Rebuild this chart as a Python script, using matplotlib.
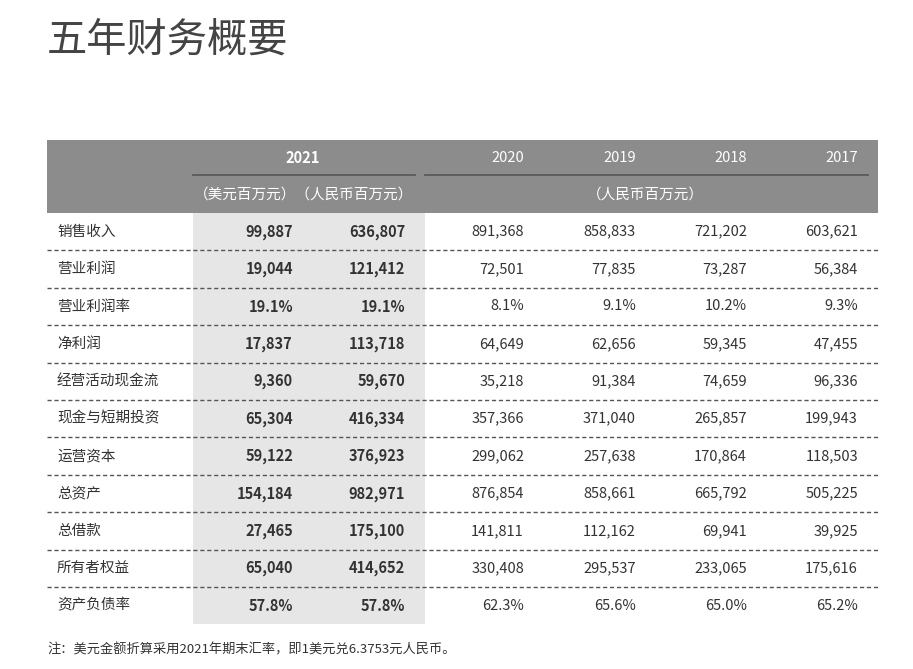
import matplotlib.pyplot as plt
from matplotlib.patches import Rectangle

plt.rcParams['font.family'] = ['Noto Sans CJK SC', 'DejaVu Sans']

title = "五年财务概要"
years = ["2020", "2019", "2018", "2017"]
items = ["销售收入", "营业利润", "营业利润率", "净利润", "经营活动现金流", "现金与短期投资",
         "运营资本", "总资产", "总借款", "所有者权益", "资产负债率"]
usd_2021 = ["99,887", "19,044", "19.1%", "17,837", "9,360", "65,304",
            "59,122", "154,184", "27,465", "65,040", "57.8%"]
rmb_2021 = ["636,807", "121,412", "19.1%", "113,718", "59,670", "416,334",
            "376,923", "982,971", "175,100", "414,652", "57.8%"]
hist = [
    ["891,368", "858,833", "721,202", "603,621"],
    ["72,501", "77,835", "73,287", "56,384"],
    ["8.1%", "9.1%", "10.2%", "9.3%"],
    ["64,649", "62,656", "59,345", "47,455"],
    ["35,218", "91,384", "74,659", "96,336"],
    ["357,366", "371,040", "265,857", "199,943"],
    ["299,062", "257,638", "170,864", "118,503"],
    ["876,854", "858,661", "665,792", "505,225"],
    ["141,811", "112,162", "69,941", "39,925"],
    ["330,408", "295,537", "233,065", "175,616"],
    ["62.3%", "65.6%", "65.0%", "65.2%"],
]
note = "注：美元金额折算采用2021年期末汇率，即1美元兑6.3753元人民币。"

fig = plt.figure(figsize=(9.13, 6.69), dpi=100)
ax = fig.add_axes([0, 0, 1, 1])
ax.set_xlim(0, 913)
ax.set_ylim(669, 0)
ax.axis('off')

txt = '#333333'
ax.text(47, 40, title, fontsize=29, color='#444444', va='center', ha='left')

# header
ax.add_patch(Rectangle((47, 140), 831, 73, color='#8c8c8c', lw=0))
ax.plot([193, 415], [175, 175], color='#555555', lw=1.2)
ax.plot([425, 868], [175, 175], color='#555555', lw=1.2)
ax.text(303, 158, "2021", color='white', fontsize=10.5, fontweight='bold', ha='center', va='center')
hx = [524, 636, 747, 858]
for x, y in zip(hx, years):
    ax.text(x, 158, y, color='white', fontsize=10.5, ha='right', va='center')
ax.text(304, 195, "（美元百万元）（人民币百万元）", color='white', fontsize=10.5, ha='center', va='center')
ax.text(645, 195, "（人民币百万元）", color='white', fontsize=10.5, ha='center', va='center')

# body
top, rh = 213, 37.4
n = len(items)
ax.add_patch(Rectangle((193, top), 232, rh * n, color='#e6e6e6', lw=0))
for i, name in enumerate(items):
    yc = top + rh * (i + 0.5)
    ax.text(57, yc, name, fontsize=10.5, color=txt, ha='left', va='center')
    ax.text(293, yc, usd_2021[i], fontsize=10.5, color=txt, fontweight='bold', ha='right', va='center')
    ax.text(405, yc, rmb_2021[i], fontsize=10.5, color=txt, fontweight='bold', ha='right', va='center')
    for x, v in zip(hx, hist[i]):
        ax.text(x, yc, v, fontsize=10.5, color=txt, ha='right', va='center')
    if i < n - 1:
        yl = top + rh * (i + 1)
        ax.plot([47, 878], [yl, yl], color='#555555', lw=1, ls=(0, (3, 2)))

ax.text(47, 650, note, fontsize=9.5, color=txt, ha='left', va='center')

fig.savefig('out.png', dpi=100)
